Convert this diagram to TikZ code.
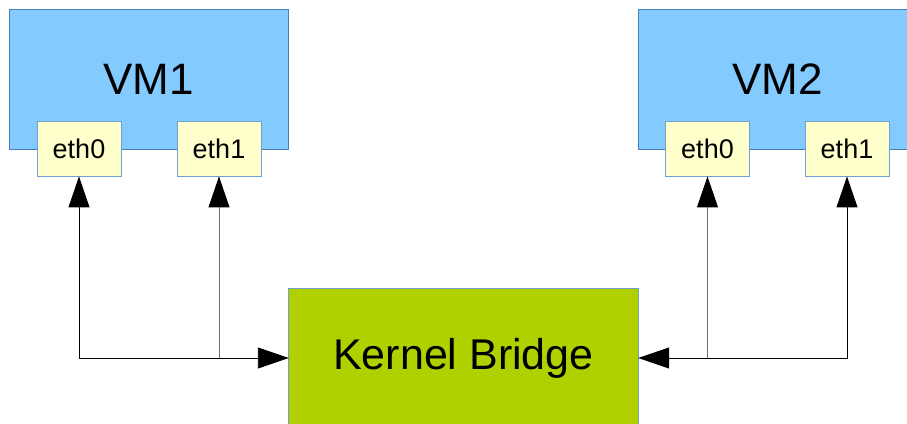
\documentclass[tikz,border=0pt]{standalone}
\usepackage{fontspec}
\setmainfont{Liberation Sans}
\usetikzlibrary{arrows.meta}
\definecolor{vmfill}{HTML}{83CAFF}
\definecolor{vmline}{HTML}{4A7EBB}
\definecolor{ethfill}{HTML}{FFFFCC}
\definecolor{ethline}{HTML}{729FCF}
\definecolor{brfill}{HTML}{B0D000}
\definecolor{brline}{HTML}{729FCF}
\definecolor{wire}{HTML}{707070}
\begin{document}
\begin{tikzpicture}[x=1pt,y=1pt,
  vmbox/.style={draw=vmline, fill=vmfill, line width=0.9pt, inner sep=0pt,
    minimum width=279pt, minimum height=140pt, font=\fontsize{44}{50}\selectfont},
  ethbox/.style={draw=ethline, fill=ethfill, line width=0.9pt, inner sep=0pt,
    minimum width=84pt, minimum height=55pt, font=\fontsize{27}{32}\selectfont},
  bridgebox/.style={fill=brfill, inner sep=0pt,
    minimum width=349pt, minimum height=150pt},
  bridgeedge/.style={draw=brline, line width=0.9pt},
  link/.style={line width=0.9pt, draw=black},
  sublink/.style={line width=0.9pt, draw=wire},
  head/.tip={Triangle[length=31pt,width=21pt,color=black,fill=black]},
]
\useasboundingbox (0,0) rectangle (907,423);
\clip (0,0) rectangle (907,423);

% virtual machines
\node[vmbox] (vm1) at (148.5,344) {VM1};
\node[vmbox] (vm2) at (777.5,344) {VM2};

% interfaces
\node[ethbox] (v1e0) at (79,274.5) {eth0};
\node[ethbox] (v1e1) at (219,274.5) {eth1};
\node[ethbox] (v2e0) at (707.5,274.5) {eth0};
\node[ethbox] (v2e1) at (847,274.5) {eth1};

% bridge (runs past the lower edge, so its bottom side is left open)
\node[bridgebox] (br) at (463.5,59) {};
\draw[bridgeedge] (br.south west) -- (br.north west) -- (br.north east) -- (br.south east);
\node[font=\fontsize{43}{50}\selectfont, inner sep=0pt] (brtext) at (463.5,65) {Kernel Bridge};
\coordinate (brin) at (br.west |- brtext);
\coordinate (brout) at (br.east |- brtext);

% connections on the left
\draw[sublink, -head] (v1e1.south |- brin) -- (v1e1.south);
\draw[link, head-head] (v1e0.south) |- (brin);

% connections on the right
\draw[sublink, -head] (v2e0.south |- brout) -- (v2e0.south);
\draw[link, head-head] (v2e1.south) |- (brout);
\end{tikzpicture}
\end{document}
